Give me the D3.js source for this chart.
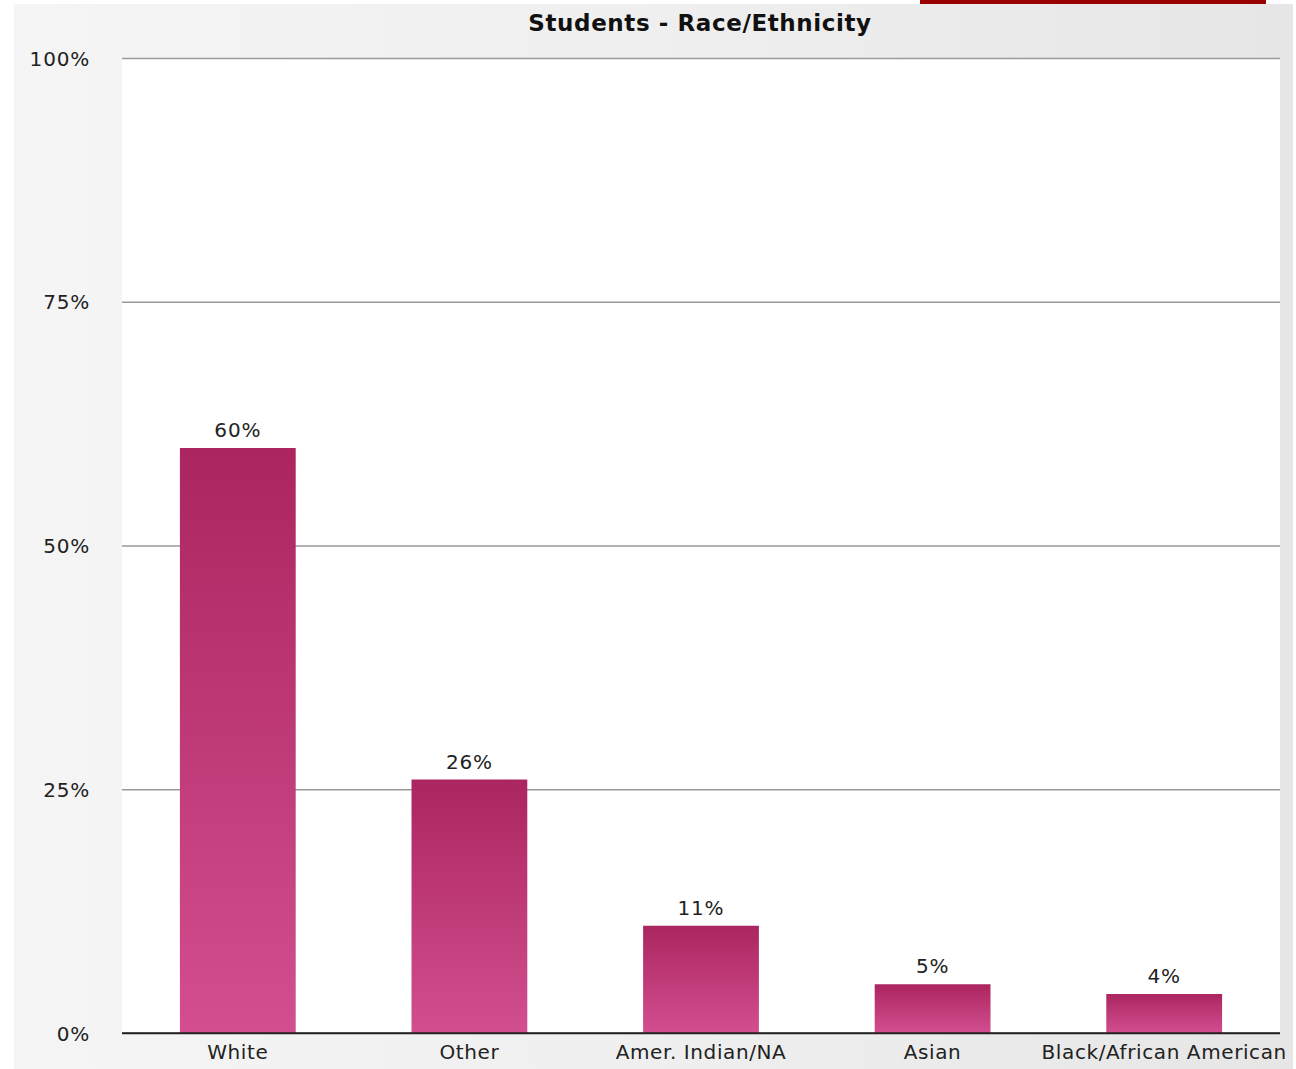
<!DOCTYPE html>
<html><head><meta charset="utf-8">
<script src="https://cdn.jsdelivr.net/npm/d3@7"></script>
<style>html,body{margin:0;padding:0;background:#fff;}svg{display:block;}</style>
</head><body>
<svg id="chart" width="1296" height="1069"></svg>
<script>
const categories = ["White", "Other", "Amer. Indian/NA", "Asian", "Black/African American"];
const values = [60, 26, 11, 5, 4];
const tickValues = [0, 25, 50, 75, 100];
const tickLabels = ["0%", "25%", "50%", "75%", "100%"];
const title = "Students - Race/Ethnicity";

(function(){
const svg = d3.select("#chart");
const W = 1296, H = 1069;
const mLeft = 122, mRight = 1280, mTop = 58, mBottom = 1033;
const FONT = "'DejaVu Sans', Verdana, sans-serif";

const defs = svg.append("defs");
const bg = defs.append("linearGradient").attr("id","bg").attr("x1",0).attr("x2",1).attr("y1",0).attr("y2",0);
bg.append("stop").attr("offset","0%").attr("stop-color","#f5f5f5");
bg.append("stop").attr("offset","50%").attr("stop-color","#efefef");
bg.append("stop").attr("offset","100%").attr("stop-color","#e6e6e6");
const barG = defs.append("linearGradient").attr("id","barg").attr("x1",0).attr("x2",0).attr("y1",0).attr("y2",1);
barG.append("stop").attr("offset","0%").attr("stop-color","#ab2660");
barG.append("stop").attr("offset","100%").attr("stop-color","#d24e8f");

// background
svg.append("rect").attr("x",14).attr("y",4).attr("width",1279).attr("height",H-4).attr("fill","url(#bg)");
svg.append("rect").attr("x",920).attr("y",0).attr("width",346).attr("height",4).attr("fill","#9b0000");
svg.append("rect").attr("x",mLeft).attr("y",mTop).attr("width",mRight-mLeft).attr("height",mBottom-mTop).attr("fill","#fff");

const x = d3.scaleBand().domain(categories).range([mLeft, mRight]).paddingInner(0.5).paddingOuter(0.25);
const y = d3.scaleLinear().domain([0, 100]).range([mBottom, mTop]);

// gridlines
const yAxis = d3.axisLeft(y).tickValues(tickValues).tickSize(-(mRight-mLeft)).tickFormat((d,i)=>tickLabels[i]);
const ga = svg.append("g").attr("transform",`translate(${mLeft},0)`).call(yAxis);
ga.select(".domain").remove();
ga.selectAll(".tick line").attr("stroke", d => d === 0 ? "#222" : "#9a9a9a").attr("stroke-width", d => d===0?1.6:1.3);
ga.selectAll(".tick text").attr("x",-32).attr("fill","#222").style("font-family",FONT).style("font-size","20px")
  .style("letter-spacing","0.8px").attr("dy","0.35em").attr("text-anchor","end");

// bars
svg.append("g").selectAll("rect").data(values).join("rect")
  .attr("x",(d,i)=>x(categories[i]))
  .attr("width",x.bandwidth())
  .attr("y",d=>y(d))
  .attr("height",d=>mBottom-y(d))
  .attr("fill","url(#barg)");

// redraw baseline above bars
svg.append("line").attr("x1",mLeft).attr("x2",mRight).attr("y1",mBottom).attr("y2",mBottom).attr("stroke","#222").attr("stroke-width",1.6);

// value labels
svg.append("g").selectAll("text").data(values).join("text")
  .attr("x",(d,i)=>x(categories[i])+x.bandwidth()/2)
  .attr("y",d=>y(d)-11)
  .attr("text-anchor","middle")
  .attr("fill","#222")
  .style("font-family",FONT).style("font-size","20px").style("letter-spacing","0.8px")
  .text(d=>d+"%");

// category labels
const xAxis = d3.axisBottom(x).tickSize(0);
const gx = svg.append("g").attr("transform",`translate(0,${mBottom})`).call(xAxis);
gx.select(".domain").remove();
gx.selectAll(".tick text").attr("y",12).attr("dy","0.71em").attr("fill","#222")
  .style("font-family",FONT).style("font-size","20px").style("letter-spacing","0.6px");

// title
svg.append("text").attr("x",700).attr("y",31).attr("text-anchor","middle").attr("fill","#111")
  .style("font-family",FONT).style("font-size","23px").style("font-weight","bold").style("letter-spacing","0.6px")
  .text(title);
})();
</script>
</body></html>
